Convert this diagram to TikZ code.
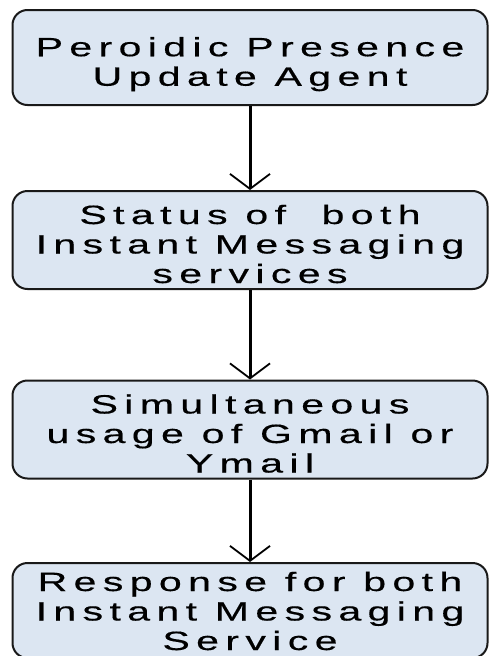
\documentclass[tikz,border=0pt]{standalone}
\usepackage{fontspec}
\newfontfamily\flowfont[FakeStretch=1.55,LetterSpace=24,FakeBold=0.4]{Liberation Sans}
\usetikzlibrary{arrows.meta}
\definecolor{boxfill}{HTML}{DCE6F2}
% struts so the lines sit a little low in each box
\newcommand{\topgap}[1][33pt]{\rule{0pt}{#1}}
\newcommand{\botgap}{\rule[-6pt]{0pt}{6pt}}
\begin{document}
\begin{tikzpicture}[x=1pt,y=-1pt, stage/.style={draw=black!90,line width=2pt,fill=boxfill,rounded corners=15pt,minimum width=475pt,minimum height=95pt,inner sep=0pt,align=center,font=\flowfont\fontsize{26.5}{29.5}\selectfont}, flow/.style={line width=3pt,-{Straight Barb[length=15pt,width=40pt,line width=1.8pt]}}]
       \useasboundingbox (0,0) rectangle (489,656);
       \node[stage] (1) at (250,57.5) {\topgap Peroidic Presence\\Update Agent\botgap};
       \node[stage] (2) at (250,240) {\topgap Status of \ both\\Instant Messaging\\services\botgap};
       \node[stage] (3) at (250,429.5) {\topgap Simultaneous\\usage of Gmail or\\Ymail\botgap};
       \node[stage] (4) at (250,610.5) {\topgap[26pt]Response for both\\Instant Messaging\\Service\botgap};

       \foreach \a/\b in {1/2,2/3,3/4}{\draw[flow] (\a) -- (\b); }
     \end{tikzpicture}
\end{document}
